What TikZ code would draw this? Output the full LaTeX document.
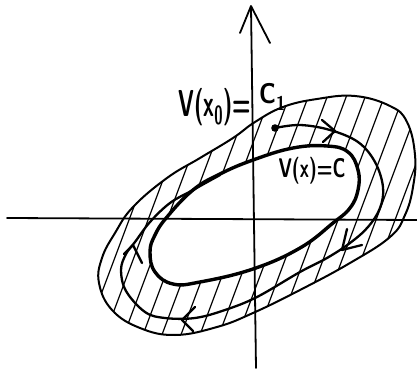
\documentclass[tikz,border=0pt]{standalone}
\begin{document}
\begin{tikzpicture}[x=1pt,y=-1pt,line cap=round,line join=round,
  axisline/.style={line width=1.8pt},
  outerline/.style={line width=2pt},
  innerline/.style={line width=3.4pt},
  trajline/.style={line width=2.3pt},
  hatchline/.style={line width=1.2pt},
  lbl/.style={inner sep=0pt,font=\sffamily\bfseries\fontsize{30}{30}\selectfont}]
\useasboundingbox (0,0) rectangle (417,371);
% hatching in the annulus
\begin{scope}
\clip plot[smooth cycle,tension=0.7] coordinates {(99,283) (102,258) (115,233) (133,207) (167,178) (200,158) (233,138) (255,122) (283,107) (317,99) (355,96) (390,106) (407,122) (415,155) (413,187) (405,215) (390,237) (350,263) (300,290) (253,313) (217,327) (175,335) (140,328) (112,310)};
\foreach \s in {-140,-121,...,440} \draw[hatchline] (\s,380) -- ++(150,-400);
\fill[white] plot[smooth cycle,tension=0.7] coordinates {(253,160) (293,148) (327,146) (348,152) (358,170) (358,190) (350,208) (333,223) (300,248) (253,269) (200,282) (173,284) (155,272) (150,252) (155,235) (167,217) (193,190) (220,174)};
\end{scope}
% axes
\draw[axisline] (7,218) -- (417,220);
\draw[axisline] (256,368) -- (251,7);
\draw[axisline] (240,33) -- (251,6) -- (270,43);
% outer boundary V(x0)=C1
\draw[outerline] plot[smooth cycle,tension=0.7] coordinates {(99,283) (102,258) (115,233) (133,207) (167,178) (200,158) (233,138) (255,122) (283,107) (317,99) (355,96) (390,106) (407,122) (415,155) (413,187) (405,215) (390,237) (350,263) (300,290) (253,313) (217,327) (175,335) (140,328) (112,310)};
% inner level set V(x)=C
\draw[innerline] plot[smooth cycle,tension=0.7] coordinates {(253,160) (293,148) (327,146) (348,152) (358,170) (358,190) (350,208) (333,223) (300,248) (253,269) (200,282) (173,284) (155,272) (150,252) (155,235) (167,217) (193,190) (220,174)};
% trajectory
\draw[trajline] plot[smooth,tension=0.6] coordinates {(275,128) (300,125) (330,130) (358,142) (375,162) (383,187) (380,208) (368,227) (350,243) (327,258) (300,272) (257,297) (225,310) (195,318) (165,318) (145,312) (126,291) (121,270) (126,254) (135,242) (150,222) (170,203) (193,190) (220,175)};
\fill (275,128) circle (3.8);
% arrowheads
\draw[trajline] (322,120) -- (335,131) -- (323,142);
\draw[trajline] (347,229) -- (342,250) -- (362,245);
\draw[trajline] (195,307) -- (182,320) -- (193,331);
\draw[trajline] (124,254) -- (133,245) -- (142,263);
% labels
\node[lbl,anchor=east,xscale=0.72,yscale=1.25,transform shape] (lab1) at (251,107) {V(x\textsubscript{0})=};
\node[lbl,anchor=west,xscale=0.8,yscale=0.95,transform shape] (lab2) at (259,97) {C\textsubscript{1}};
\node[lbl,xscale=0.68,yscale=1.0,transform shape,font=\sffamily\bfseries\fontsize{27}{27}\selectfont] (lab3) at (312,171) {V(x)=C};
\end{tikzpicture}
\end{document}
